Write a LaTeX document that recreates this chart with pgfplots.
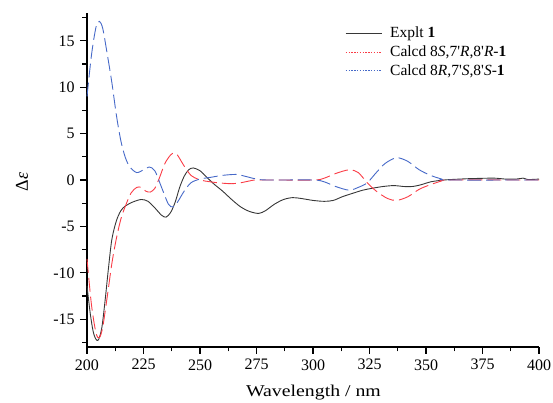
\documentclass[border=0pt]{standalone}
\usepackage{fontspec}
\setmainfont{Liberation Serif}
\newfontfamily\widefont[FakeStretch=1.2]{Liberation Serif}
\usepackage{pgfplots}
\pgfplotsset{compat=1.18}
\definecolor{exptgray}{RGB}{55,55,55}
\definecolor{calcred}{RGB}{250,60,70}
\definecolor{calcblue}{RGB}{70,105,200}
\pgfplotsset{
    solidlegend/.style={legend image code/.code={
        \draw[#1, line width=0.9pt] (0pt,0pt) -- (36pt,0pt); \path (42pt,0pt);}},
    dotlegend/.style={legend image code/.code={
        \draw[#1, line width=0.9pt, dash pattern=on 1.4pt off 1.4pt] (0pt,0pt) -- (36pt,0pt); \path (42pt,0pt);}},
}

% Explt 1
\pgfplotstableread{
x y
200 -11.4
201.5 -14.5
203 -16.6
204.8 -17.3
206.5 -16.0
208 -13.0
209.5 -9.5
211 -6.4
213 -4.4
215 -3.3
217 -2.8
220 -2.4
224 -2.1
227 -2.3
230 -3.0
233 -3.8
235 -4.0
237 -3.5
239 -2.4
241 -0.8
243 0.4
245 1.1
247 1.3
250 1.0
253 0.3
256 -0.4
260 -1.2
264 -2.1
268 -2.9
272 -3.4
276 -3.6
279 -3.3
283 -2.6
287 -2.1
291 -1.9
295 -2.0
300 -2.2
305 -2.3
309 -2.2
313 -1.8
318 -1.4
322 -1.1
326 -0.9
331 -0.7
336 -0.6
340 -0.7
344 -0.7
348 -0.5
352 -0.2
358 0.0
365 0.1
370 0.15
380 0.2
385 0.1
390 0.1
393 0.2
395 0.05
400 0.1
}\explt

% Calcd 8S,7'R,8'R-1
\pgfplotstableread{
x y
200 -8.5
202 -13.5
204 -16.5
205.5 -17.0
207 -15.8
209 -12.5
211 -9.0
213 -6.3
215 -4.2
217 -2.8
219.5 -1.4
222 -0.8
224 -0.8
226 -1.2
228 -1.3
230 -0.9
232 0.2
234.5 1.8
237 2.7
238.5 2.9
240 2.7
243 1.5
246 0.5
249 0.1
252 -0.1
258 -0.3
264 -0.4
268 -0.3
272 -0.1
276 0
300 0
305 0.2
310 0.7
316 1.1
320 0.8
324 -0.3
328 -1.2
333 -2.0
337 -2.2
342 -1.8
347 -1.0
352 -0.5
357 -0.1
360 0
400 0
}\calcsrr

% Calcd 8R,7'S,8'S-1
\pgfplotstableread{
x y
200 9.0
202 13.5
204 16.5
205.5 17.1
207 16.3
209 13.5
211 10.5
213 7.0
215 4.2
217 2.4
219 1.4
222 0.8
225 1.1
227.5 1.4
230 1.0
233 -0.8
236 -2.6
238 -2.9
240 -2.4
243 -1.2
246 -0.3
250 0.1
255 0.3
260 0.5
266 0.6
270 0.4
275 0.1
280 0
300 0
305 -0.2
310 -0.7
316 -1.1
320 -0.8
324 -0.3
328 0.8
332 1.8
337 2.4
342 2.0
347 1.1
352 0.5
357 0.1
360 0
400 0
}\calcrss

\begin{document}
\fontsize{15.5}{18.5}\selectfont
\begin{tikzpicture}
\begin{axis}[
    scale only axis,
    width=452pt, height=334pt,
    xmin=200, xmax=400,
    ymin=-18, ymax=18,
    axis x line*=bottom,
    axis y line*=left,
    axis line style={line width=1.6pt},
    xtick={200,225,...,400},
    minor xtick={212.5,237.5,...,387.5},
    ytick={-15,-10,...,15},
    minor ytick={-17.5,-12.5,...,17.5},
    tick align=outside,
    major tick length=7pt,
    minor tick length=4.5pt,
    every tick/.style={black, line width=1.3pt},
    tick label style={font=\fontsize{16}{19}\selectfont},
    /pgf/number format/assume math mode=true,
    xlabel={\widefont Wavelength / nm},
    ylabel={Δ\textit{ε}},
    xlabel style={font=\fontsize{16.5}{19}\selectfont, at={(axis description cs:0.501,-0.147)}, anchor=base},
    ylabel style={font=\fontsize{18}{20}\selectfont, at={(axis description cs:-0.144,0.494)}, anchor=center, rotate=0},
    legend cell align=left,
    legend style={at={(0.571,0.964)}, anchor=north west, draw=none, fill=none,
        inner sep=0pt, row sep=1.5pt, font=\fontsize{15.5}{18.5}\selectfont},
    clip=false,
]
\addplot[exptgray, line width=0.9pt, smooth, tension=0.5, solidlegend=exptgray]
    table[x=x,y=y] {\explt};
\addlegendentry{Explt \textbf{1}}
\addplot[calcred, line width=0.9pt, smooth, tension=0.5, dash pattern=on 14pt off 5pt, dotlegend=calcred]
    table[x=x,y=y] {\calcsrr};
\addlegendentry{Calcd 8\textit{S},7\textquotesingle\textit{R},8\textquotesingle\textit{R}-\textbf{1}}
\addplot[calcblue, line width=0.9pt, smooth, tension=0.5, dash pattern=on 14pt off 5pt, dotlegend=calcblue]
    table[x=x,y=y] {\calcrss};
\addlegendentry{Calcd 8\textit{R},7\textquotesingle\textit{S},8\textquotesingle\textit{S}-\textbf{1}}
\end{axis}
\pgfresetboundingbox
\path[use as bounding box] ([xshift=-87pt,yshift=-56pt]current axis.south west)
    rectangle ([xshift=14pt,yshift=13pt]current axis.north east);
\end{tikzpicture}
\end{document}
